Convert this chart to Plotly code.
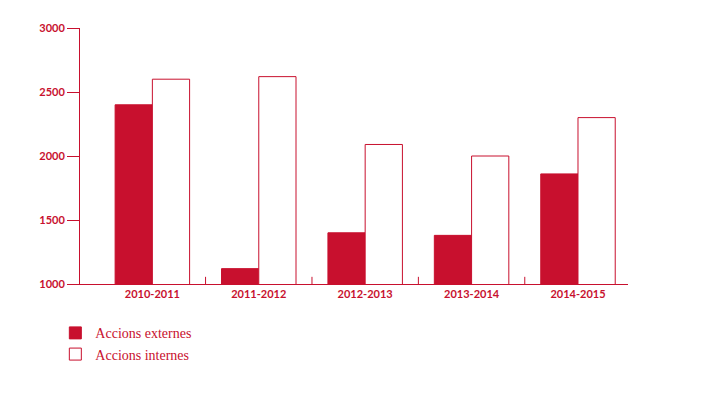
import plotly.graph_objects as go

cats = ["2010-2011", "2011-2012", "2012-2013", "2013-2014", "2014-2015"]
externes = [2400, 1120, 1400, 1380, 1860]
internes = [2600, 2620, 2090, 2000, 2300]
RED = "#c8102e"
xs = list(range(len(cats)))

fig = go.Figure()
fig.add_bar(x=xs, y=externes, name="Accions externes", marker=dict(color=RED, line=dict(color=RED, width=1)))
fig.add_bar(x=xs, y=internes, name="Accions internes", marker=dict(color="white", line=dict(color=RED, width=1)))

for i in range(len(cats)):
    fig.add_shape(type="line", xref="x", yref="paper", x0=i + 0.5, x1=i + 0.5, y0=0, y1=0.028,
                  line=dict(color=RED, width=1))

fig.update_layout(
    width=706, height=403, barmode="group", bargap=0.3, bargroupgap=0,
    margin=dict(l=72, r=86, t=20, b=127),
    plot_bgcolor="white", paper_bgcolor="white",
    font=dict(family="Lato", color=RED, size=11),
    xaxis=dict(tickvals=xs, ticktext=cats, range=[-0.68, 4.47], showgrid=False,
               showline=True, linecolor=RED, linewidth=1, ticks="", zeroline=False,
               tickfont=dict(family="Lato", size=11, color=RED, weight="bold")),
    yaxis=dict(range=[1000, 3000], tickvals=[1000, 1500, 2000, 2500, 3000], showgrid=False,
               showline=True, linecolor=RED, linewidth=1, ticks="outside", ticklen=12,
               tickcolor=RED, zeroline=False,
               tickfont=dict(family="Lato", size=11, color=RED, weight="bold")),
    legend=dict(x=-0.045, y=-0.13, xanchor="left", yanchor="top", traceorder="normal",
                font=dict(family="Liberation Serif", size=14, color=RED), tracegroupgap=4),
)
fig.write_html("out.html")
